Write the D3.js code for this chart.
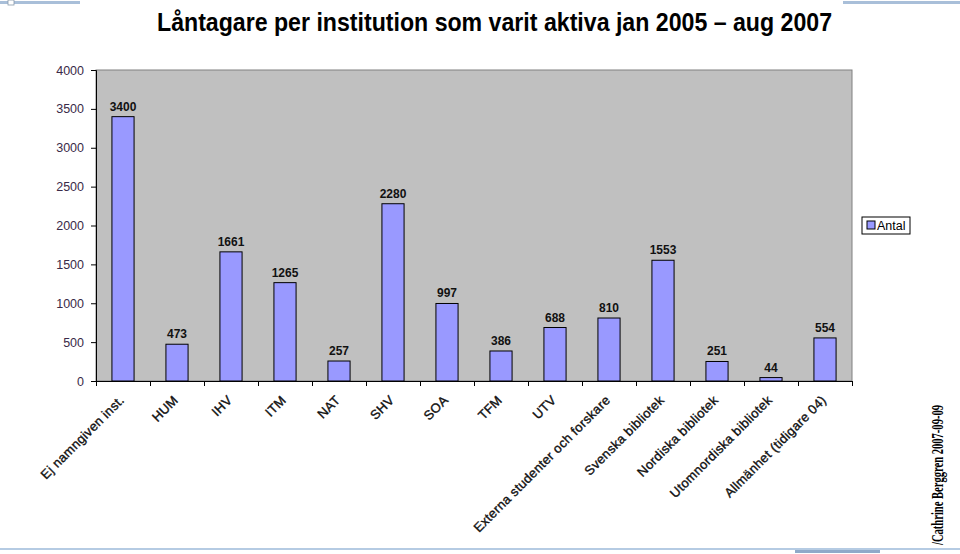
<!DOCTYPE html>
<html><head><meta charset="utf-8">
<script src="https://cdn.jsdelivr.net/npm/d3@7"></script>
<style>body{margin:0;background:#fff}svg{display:block}</style>
</head><body>
<script>
const categories = ["Ej namngiven inst.","HUM","IHV","ITM","NAT","SHV","SOA","TFM","UTV","Externa studenter och forskare","Svenska bibliotek","Nordiska bibliotek","Utomnordiska bibliotek","Allmänhet (tidigare 04)"];
const values = [3400,473,1661,1265,257,2280,997,386,688,810,1553,251,44,554];
const yTicks = [0,500,1000,1500,2000,2500,3000,3500,4000];
const seriesName = "Antal";
const title = "Låntagare per institution som varit aktiva jan 2005 – aug 2007";
const credit = "/Cathrine Berggren 2007-09-09";

const W=960,H=554;
const svg=d3.select("body").append("svg").attr("width",W).attr("height",H);
const m={l:96,r:852,t:70,b:381};

// decorative frame lines
svg.append("rect").attr("x",0).attr("y",1).attr("width",80).attr("height",3).attr("fill","#a9bfd9");
svg.append("rect").attr("x",8).attr("y",0).attr("width",6).attr("height",5).attr("fill","#fff").attr("stroke","#8899aa").attr("stroke-width",0.8);
svg.append("rect").attr("x",843).attr("y",1).attr("width",117).attr("height",3).attr("fill","#a9bfd9");
svg.append("rect").attr("x",0).attr("y",548).attr("width",960).attr("height",2).attr("fill","#b5cbe3");
svg.append("rect").attr("x",795).attr("y",550).attr("width",85).attr("height",3).attr("fill","#8fa9c9");

svg.append("text").attr("x",157).attr("y",31)
  .attr("font-family","Liberation Sans, Arial, sans-serif").attr("font-weight","bold")
  .attr("font-size",25).attr("textLength",675).attr("lengthAdjust","spacingAndGlyphs")
  .attr("fill","#000").text(title);

const x=d3.scaleBand().domain(categories).range([m.l,m.r]).paddingInner(0.59).paddingOuter(0.295);
const y=d3.scaleLinear().domain([0,4000]).range([m.b,m.t]);

svg.append("rect").attr("x",m.l).attr("y",m.t).attr("width",m.r-m.l).attr("height",m.b-m.t)
  .attr("fill","#c0c0c0").attr("stroke","#808080").attr("stroke-width",1);

svg.selectAll("rect.bar").data(values).enter().append("rect").attr("class","bar")
  .attr("x",(d,i)=>x(categories[i])).attr("y",d=>y(d)).attr("width",x.bandwidth()).attr("height",d=>y(0)-y(d))
  .attr("fill","#9999ff").attr("stroke","#000").attr("stroke-width",1);

svg.selectAll("text.val").data(values).enter().append("text").attr("class","val")
  .attr("transform",(d,i)=>`translate(${x(categories[i])+x.bandwidth()/2},${y(d)-6}) scale(1,1.12)`)
  .attr("text-anchor","middle").attr("font-family","Arial, Liberation Sans, sans-serif")
  .attr("font-weight","bold").attr("font-size",12).attr("fill","#111").text(d=>d);

// y axis
const ya=svg.append("g").attr("transform",`translate(${m.l},0)`)
  .call(d3.axisLeft(y).tickValues(yTicks).tickSize(5).tickFormat(d3.format("d")));
ya.select(".domain").attr("stroke","#000");
ya.selectAll(".tick line").attr("stroke","#000");
ya.selectAll("text").attr("font-family","Arial, Liberation Sans, sans-serif").attr("font-size",12.5).attr("fill","#3a2a48").attr("dx",-4);

// x axis
const xb=d3.scaleLinear().domain([0,categories.length]).range([m.l,m.r]);
const xa=svg.append("g").attr("transform",`translate(0,${m.b})`)
  .call(d3.axisBottom(xb).tickValues(d3.range(categories.length+1)).tickSize(5).tickFormat(""));
xa.select(".domain").attr("stroke","#000");
xa.selectAll(".tick line").attr("stroke","#000");

svg.selectAll("text.cat").data(categories).enter().append("text").attr("class","cat")
  .attr("transform",(d,i)=>`translate(${x(d)+x.bandwidth()/2+2},${m.b+20}) rotate(-45)`)
  .attr("text-anchor","end").attr("font-family","Arial, Liberation Sans, sans-serif")
  .attr("font-size",13).attr("letter-spacing",0.3)
  .attr("fill","#111").attr("stroke","#111").attr("stroke-width",0.35).text(d=>d);

// legend
const lg=svg.append("g").attr("transform","translate(862,217)");
lg.append("rect").attr("width",48).attr("height",17).attr("fill","#fff").attr("stroke","#000");
lg.append("rect").attr("x",5).attr("y",4).attr("width",8).attr("height",8).attr("fill","#9999ff").attr("stroke","#000");
lg.append("text").attr("x",15).attr("y",13).attr("font-family","Arial, Liberation Sans, sans-serif")
  .attr("font-size",12.5).attr("fill","#000").text(seriesName);

// credit
svg.append("text").attr("transform","translate(943,545) rotate(-90)")
  .attr("font-family","Liberation Serif, Times New Roman, serif").attr("font-weight","bold")
  .attr("font-size",16).attr("textLength",140).attr("lengthAdjust","spacingAndGlyphs")
  .attr("fill","#000").text(credit);
</script>
</body></html>
